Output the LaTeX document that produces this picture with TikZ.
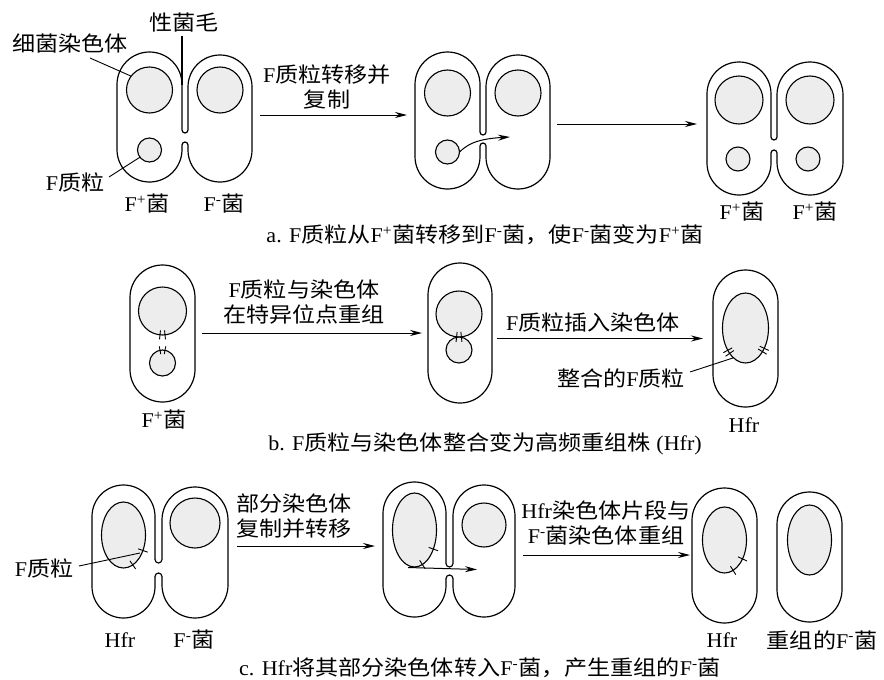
\documentclass[tikz,border=0pt]{standalone}
\usepackage{fontspec}
\setmainfont[FakeStretch=1.1]{Noto Sans CJK SC}
\newfontfamily\serifl[FakeStretch=1.05]{Liberation Serif}
\usetikzlibrary{arrows.meta,shapes.geometric}

% Latin pieces inside Chinese text
\newcommand\lw[1]{{\serifl #1}}
\newcommand\Fplus{\lw{F\textsuperscript{+}}}
\newcommand\Fminus{\lw{F\textsuperscript{-}}}

% two conjugating cells joined at a narrow channel:
% xl xs1 xs2 xr ytopL ytopR ybottom yslot ynotch
\newcommand\cellpair[9]{%
  \pgfmathsetmacro\rA{(#2-#1)/2}%
  \pgfmathsetmacro\rB{(#4-#3)/2}%
  \pgfmathsetmacro\rG{(#3-#2)/2}%
  \draw[cellline] (#1,#5+\rA) arc[start angle=180,end angle=360,radius=\rA]
    -- (#2,#8-\rG) arc[start angle=180,end angle=0,radius=\rG]
    -- (#3,#6+\rB) arc[start angle=180,end angle=360,radius=\rB]
    -- (#4,#7-\rB) arc[start angle=0,end angle=180,radius=\rB]
    -- (#3,#9+\rG) arc[start angle=0,end angle=-180,radius=\rG]
    -- (#2,#7-\rA) arc[start angle=0,end angle=180,radius=\rA]
    -- cycle;}

% a single rod-shaped cell: xl ytop xr ybottom
\newcommand\cellsingle[4]{%
  \pgfmathsetmacro\rA{(#3-#1)/2}%
  \draw[cellline] (#1,#2+\rA) arc[start angle=180,end angle=360,radius=\rA]
    -- (#3,#4-\rA) arc[start angle=0,end angle=180,radius=\rA] -- cycle;}

% short mark across an ellipse: cx cy rx ry angle halflength
\newcommand\etick[6]{%
  \pgfmathsetmacro\tPx{#1+#3*cos(#5)}%
  \pgfmathsetmacro\tPy{#2+#4*sin(#5)}%
  \pgfmathsetmacro\tNx{#4*cos(#5)}%
  \pgfmathsetmacro\tNy{#3*sin(#5)}%
  \pgfmathsetmacro\tNn{sqrt(\tNx*\tNx+\tNy*\tNy)}%
  \draw[tickmark] (\tPx-#6*\tNx/\tNn,\tPy-#6*\tNy/\tNn) -- (\tPx+#6*\tNx/\tNn,\tPy+#6*\tNy/\tNn);}

\tikzset{
  cellline/.style={line width=1.2pt, line join=round},
  chrom/.style={draw, line width=1.1pt, fill=black!7, inner sep=0pt, outer sep=0pt},
  lbl/.style={font=\fontsize{21}{25}\selectfont, inner sep=0pt},
  flow/.style={line width=1pt, -{Stealth[length=12pt,width=6pt,inset=4pt]}},
  lead/.style={line width=0.9pt},
  tickmark/.style={line width=0.9pt}
}

\begin{document}
\begin{tikzpicture}[x=1pt,y=-1pt]
\fill[white] (0,0) rectangle (884,680);
\useasboundingbox (0,0) rectangle (884,680);

% ---------- a: transfer of the F plasmid ----------
\cellpair{117}{182}{188}{252}{52}{55}{182}{133}{142}
\draw[cellline] (182,36) -- (182,84.5);
\node[lbl] (pilus) at (184,23) {性菌毛};
\node[chrom, circle, minimum size=46pt] (a1L) at (149.5,90) {};
\node[chrom, circle, minimum size=46pt] (a1R) at (220,90) {};
\node[chrom, circle, minimum size=24pt] (a1P) at (149.5,150) {};
\node[lbl] (chromlbl) at (70,43) {细菌染色体};
\coordinate (chromlead) at (90,58);
\draw[lead] (chromlead) -- (a1L.143);
\node[lbl] (plaslbl) at (75,182) {\lw{F}质粒};
\coordinate (plaslead) at (109,177);
\draw[lead] (plaslead) -- (a1P.217);
\node[lbl] (a1n1) at (147,204) {\Fplus 菌};
\node[lbl] (a1n2) at (224,204) {\Fminus 菌};

\coordinate (a1o) at (260,115);
\coordinate (a2i) at (407,115);
\draw[flow] (a1o) -- (a2i);
\node[lbl, align=center] (a1step) at (327,87) {\lw{F}质粒转移并\\复制};

\cellpair{415}{480}{486}{550}{52}{55}{189}{135}{143}
\node[chrom, circle, minimum size=46pt] (a2L) at (447.5,93) {};
\node[chrom, circle, minimum size=46pt] (a2R) at (518,93) {};
\node[chrom, circle, minimum size=24pt] (a2P) at (447.5,152) {};
\coordinate (a2t) at (510,137);
\draw[flow] (a2P.east) .. controls (466,146) and (474,139) .. (a2t);

\coordinate (a2o) at (557,124);
\coordinate (a3i) at (697,124);
\draw[flow] (a2o) -- (a3i);

\cellpair{707}{771}{777}{843}{62}{62}{195}{140}{150}
\node[chrom, circle, minimum size=48pt] (a3L) at (739,100) {};
\node[chrom, circle, minimum size=48pt] (a3R) at (810,100) {};
\node[chrom, circle, minimum size=24pt] (a3P1) at (738,159) {};
\node[chrom, circle, minimum size=24pt] (a3P2) at (808,159) {};
\node[lbl] (a3n1) at (742,212) {\Fplus 菌};
\node[lbl] (a3n2) at (815,212) {\Fplus 菌};

\node[lbl] (capa) at (485,235) {\lw{a. F}质粒从\Fplus 菌转移到\Fminus 菌，使\Fminus 菌变为\Fplus 菌};

% ---------- b: integration, Hfr ----------
\cellsingle{130}{265}{195}{402}
\node[chrom, circle, minimum size=48pt] (b1C) at (162.5,311) {};
\node[chrom, circle, minimum size=26pt] (b1P) at (162.5,363) {};
\etick{162.5}{311}{24}{24}{84}{4.5}
\etick{162.5}{311}{24}{24}{96}{4.5}
\etick{162.5}{363}{13}{13}{259}{4}
\etick{162.5}{363}{13}{13}{281}{4}
\node[lbl] (b1n) at (164,420) {\Fplus 菌};

\coordinate (b1o) at (202,333);
\coordinate (b2i) at (422,333);
\draw[flow] (b1o) -- (b2i);
\node[lbl, align=center] (b1step) at (304,302) {\lw{F}质粒与染色体\\在特异位点重组};

\cellsingle{428}{263}{492}{403}
\node[chrom, circle, minimum size=46pt] (b2C) at (459,314) {};
\node[chrom, circle, minimum size=26pt] (b2P) at (459,350) {};
\etick{459}{314}{23}{23}{84}{5}
\etick{459}{314}{23}{23}{96}{5}

\coordinate (b2o) at (497,338.5);
\coordinate (b3i) at (703,338.5);
\draw[flow] (b2o) -- (b3i);
\node[lbl] (b2step) at (593,322) {\lw{F}质粒插入染色体};

\cellsingle{713}{270}{778}{407}
\node[chrom, ellipse, minimum width=46pt, minimum height=70pt] (b3C) at (745.5,328) {};
\etick{745.5}{328}{23}{35}{133.5}{5}
\etick{745.5}{328}{23}{35}{140.5}{5}
\etick{745.5}{328}{23}{35}{35.5}{5}
\etick{745.5}{328}{23}{35}{42.5}{5}
\node[lbl] (intlbl) at (621,378) {整合的\lw{F}质粒};
\coordinate (intlead) at (690,372);
\draw[lead] (intlead) -- (b3C.248);
\node[lbl] (b3n) at (744,425) {\lw{Hfr}};

\node[lbl] (capb) at (485,444) {\lw{b. F}质粒与染色体整合变为高频重组株\lw{~(Hfr)}};

% ---------- c: Hfr x F- ----------
\cellpair{92}{155}{162}{228}{485}{487}{618}{563}{573}
\node[chrom, ellipse, minimum width=44pt, minimum height=66pt] (c1L) at (123.5,535) {};
\etick{123.5}{535}{22}{33}{28}{5}
\etick{123.5}{535}{22}{33}{65}{5}
\node[chrom, circle, minimum size=50pt] (c1R) at (195,523) {};
\node[lbl] (c1f) at (44,568) {\lw{F}质粒};
\coordinate (c1fa) at (79,566);
\coordinate (c1fb) at (140,553);
\draw[lead] (c1fa) -- (c1fb);
\node[lbl] (c1n1) at (120,640) {\lw{Hfr}};
\node[lbl] (c1n2) at (194,640) {\Fminus 菌};

\coordinate (c1o) at (237,546);
\coordinate (c2i) at (375,546);
\draw[flow] (c1o) -- (c2i);
\node[lbl, align=left, anchor=west] (c1step) at (236,516) {部分染色体\\复制并转移};

\cellpair{383}{446}{453}{515}{482}{485}{617}{567}{575}
\node[chrom, ellipse, minimum width=44pt, minimum height=74pt] (c2L) at (414.5,530) {};
\etick{414.5}{530}{22}{37}{31}{5}
\etick{414.5}{530}{22}{37}{69}{5}
\node[chrom, circle, minimum size=44pt] (c2R) at (484,525) {};
\coordinate (c2s) at (408,567.5);
\coordinate (c2t) at (477,569.5);
\draw[flow] (c2s) -- (c2t);

\coordinate (c2o) at (523,555);
\coordinate (c3i) at (690,555);
\draw[flow] (c2o) -- (c3i);
\node[lbl, align=center] (c2step) at (606,523) {\lw{Hfr}染色体片段与\\\Fminus 菌染色体重组};

\cellsingle{692}{488}{757}{623}
\node[chrom, ellipse, minimum width=44pt, minimum height=66pt] (c3C) at (724.5,540) {};
\etick{724.5}{540}{22}{33}{35}{5}
\etick{724.5}{540}{22}{33}{67}{5}
\cellsingle{777}{492}{842}{622}
\node[chrom, ellipse, minimum width=44pt, minimum height=70pt] (c4C) at (809.5,540) {};
\node[lbl] (c3n) at (722,640) {\lw{Hfr}};
\node[lbl] (c4n) at (822,640) {重组的\Fminus 菌};

\node[lbl] (capc) at (480,668) {\lw{c. Hfr}将其部分染色体转入\Fminus 菌，产生重组的\Fminus 菌};
\end{tikzpicture}
\end{document}
